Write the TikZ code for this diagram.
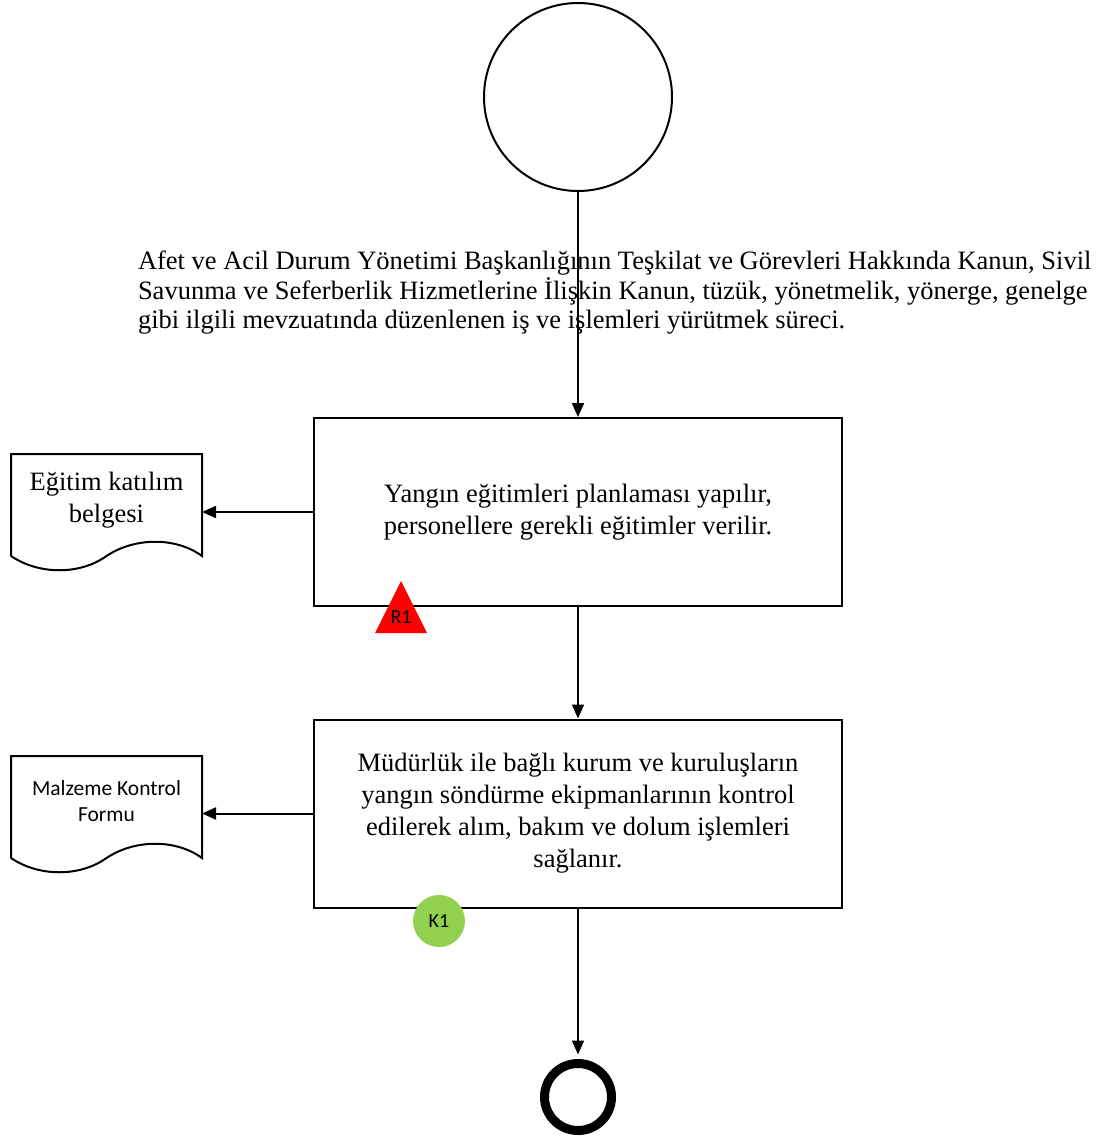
\documentclass[tikz,border=0pt]{standalone}
\usepackage{fontspec}
\setmainfont{Liberation Serif}
\newfontfamily\calibri{Carlito}
\usetikzlibrary{arrows.meta}
\definecolor{kgreen}{HTML}{92D050}

\begin{document}
\begin{tikzpicture}[x=1pt,y=-1pt,line width=2pt,>={Triangle[length=14pt,width=12pt]},
  startnode/.style={circle,draw,minimum size=188pt,inner sep=0pt},
  stopnode/.style={circle,draw,line width=9pt,minimum size=67pt,inner sep=0pt},
  process/.style={rectangle,draw,minimum width=528pt,minimum height=188pt,align=center,font=\fontsize{26.5}{32}\selectfont},
  docnode/.style={rectangle,minimum width=189pt,minimum height=100pt,inner sep=0pt},
  doctext/.style={align=center,inner sep=0pt},
  control/.style={circle,fill=kgreen,minimum size=52pt,inner sep=0pt,font=\calibri\fontsize{20}{20}\selectfont}]
\useasboundingbox (0,0) rectangle (1105,1140);
\node[startnode] (start) at (578,97) {};
\node[anchor=west,align=left,inner sep=0pt,font=\fontsize{26.5}{29.5}\selectfont] (scopetext) at (137,293)
  {Afet ve Acil Durum Yönetimi Başkanlığının Teşkilat ve Görevleri Hakkında Kanun, Sivil\\
   Savunma ve Seferberlik Hizmetlerine İlişkin Kanun, tüzük, yönetmelik, yönerge, genelge\\
   gibi ilgili mevzuatında düzenlenen iş ve işlemleri yürütmek süreci.};
\node[process] (train) at (578,512) {Yangın eğitimleri planlaması yapılır,\\personellere gerekli eğitimler verilir.};
\node[process] (equip) at (578,813.5) {Müdürlük ile bağlı kurum ve kuruluşların\\yangın söndürme ekipmanlarının kontrol\\edilerek alım, bakım ve dolum işlemleri\\sağlanır.};
\node[stopnode] (stop) at (578,1097) {};
% documents
\node[docnode] (cert) at (106.5,505) {};
\draw (cert.south west) -- (cert.north west) -- (cert.north east) -- (cert.south east)
  .. controls +(-26,-19) and +(28.5,-19) .. (cert.south)
  .. controls +(-26.5,19) and +(28,19) .. (cert.south west);
\node[doctext,font=\fontsize{26.5}{32}\selectfont] (certtext) at ([yshift=5pt]cert.center) {Eğitim katılım\\belgesi};
\node[docnode] (form) at (106.5,807) {};
\draw (form.south west) -- (form.north west) -- (form.north east) -- (form.south east)
  .. controls +(-26,-19) and +(28.5,-19) .. (form.south)
  .. controls +(-26.5,19) and +(28,19) .. (form.south west);
\node[doctext,font=\calibri\fontsize{21.5}{26}\selectfont] (formtext) at ([yshift=6pt]form.center) {Malzeme Kontrol\\Formu};
% risk and control
\fill[red] (375,633) -- (401,581) -- (427,633) -- cycle;
\node[inner sep=0pt,font=\calibri\fontsize{20}{20}\selectfont] (risk) at (401,617) {R1};
\node[control] (ctrl) at (439,921) {K1};
\path[->]
(start) edge (train)
(train) edge (equip)
(train.west) edge (train.west -| cert.east)
(equip.west) edge (equip.west -| form.east)
(equip) edge[shorten >=4.5pt] (stop);
\end{tikzpicture}
\end{document}
